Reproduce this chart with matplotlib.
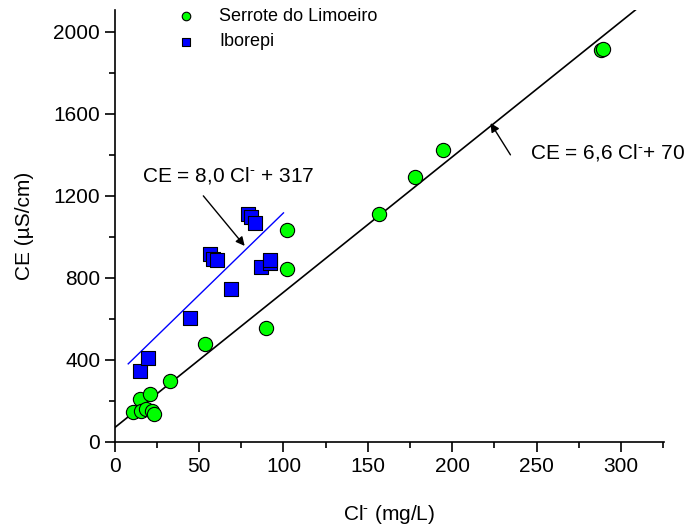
#!/usr/bin/env python3
import matplotlib
matplotlib.use("Agg")
import matplotlib.pyplot as plt
from matplotlib.ticker import MultipleLocator

plt.rcParams["font.family"] = ["Liberation Sans", "DejaVu Sans"]
plt.rcParams["mathtext.fontset"] = "custom"
plt.rcParams["mathtext.rm"] = "Liberation Sans"
plt.rcParams["mathtext.it"] = "Liberation Sans"

# Serrote do Limoeiro samples (Cl- mg/L, CE uS/cm)
serrote_cl = [11, 15, 15.3, 18.8, 21.2, 22, 23.1, 32.5, 53.5, 89.4, 101.8, 101.8, 156.5, 178.2, 194.7, 288, 289.5]
serrote_ce = [148, 208, 151, 160, 236, 151, 138, 297, 476, 556, 844, 1034, 1112, 1293, 1424, 1912, 1917]

# Iborepi samples
iborepi_cl = [14.7, 20, 44.7, 56.5, 58.4, 60.4, 69.2, 79, 81, 83, 86.9, 91.8, 91.8]
iborepi_ce = [346, 410, 605, 916, 891, 888, 745, 1111, 1098, 1070, 854, 875, 886]

# fitted lines
fit_serrote = (6.6, 70)
fit_iborepi = (8.0, 317)
serrote_range = [0, 310]
iborepi_range = [8, 100]

FS = 15
SUP = r"$^{\text{-}}$"

fig = plt.figure(figsize=(6.94, 5.29), dpi=100)
ax = fig.add_axes([0.1653, 0.1645, 0.7915, 0.8165])

ax.plot(serrote_range, [fit_serrote[0] * x + fit_serrote[1] for x in serrote_range],
        color="black", lw=1.2, zorder=1)
ax.plot(iborepi_range, [fit_iborepi[0] * x + fit_iborepi[1] for x in iborepi_range],
        color="#0000ff", lw=1.0, zorder=1)

ax.scatter(serrote_cl, serrote_ce, s=105, marker="o", facecolor="#00ff00",
           edgecolor="black", linewidth=0.8, label="Serrote do Limoeiro", zorder=3)
ax.scatter(iborepi_cl, iborepi_ce, s=115, marker="s", facecolor="#0000ff",
           edgecolor="black", linewidth=0.8, label="Iborepi", zorder=3)

# equation labels with arrows
arrow = dict(arrowstyle="-|>", color="black", lw=1.0, shrinkA=0, shrinkB=0,
             mutation_scale=13)
ax.text(67, 1298, "CE = 8,0 Cl" + SUP + " + 317", ha="center", va="center", fontsize=FS)
ax.annotate("", xy=(77, 956), xytext=(52.5, 1200), arrowprops=arrow)
ax.text(246, 1410, "CE = 6,6 Cl" + SUP + "+ 70", ha="left", va="center", fontsize=FS)
ax.annotate("", xy=(222.7, 1555), xytext=(234.5, 1400), arrowprops=arrow)

ax.set_xlim(0, 325.5)
ax.set_ylim(0, 2106)
ax.xaxis.set_major_locator(MultipleLocator(50))
ax.xaxis.set_minor_locator(MultipleLocator(25))
ax.yaxis.set_major_locator(MultipleLocator(400))
ax.yaxis.set_minor_locator(MultipleLocator(200))
ax.tick_params(which="major", length=7, width=1.2, labelsize=FS, direction="out")
ax.tick_params(which="minor", length=4, width=1.2, direction="out")
for side in ("top", "right"):
    ax.spines[side].set_visible(False)
for side in ("left", "bottom"):
    ax.spines[side].set_linewidth(1.2)

ax.set_xlabel("Cl" + SUP + " (mg/L)", fontsize=FS, labelpad=20)
ax.set_ylabel("CE (\u00b5S/cm)", fontsize=FS, labelpad=14)

ax.legend(loc="upper left", bbox_to_anchor=(0.068, 1.042), frameon=False, fontsize=13,
          handletextpad=0.8, labelspacing=0.45, markerscale=0.6)

fig.savefig("out.png", dpi=100)
